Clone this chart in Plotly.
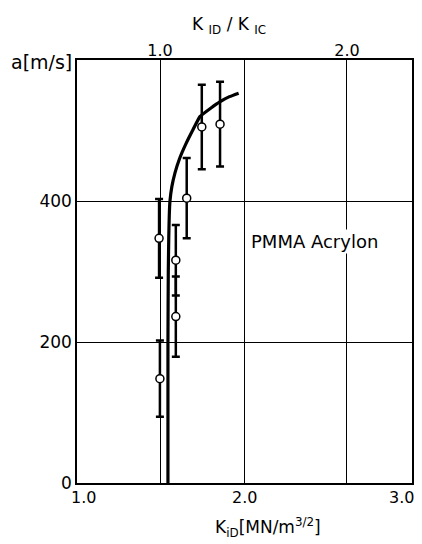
import plotly.graph_objects as go

# measured points
k_pts = [1.49, 1.495, 1.59, 1.59, 1.655, 1.745, 1.854]
a_pts = [347, 148, 316, 236, 404, 505, 509]
a_err = [56, 54, 50, 57, 57, 60, 60]

# fitted curve
k_curve = [1.543, 1.543, 1.545, 1.548, 1.551, 1.555, 1.566, 1.585, 1.612, 1.648, 1.69, 1.735, 1.80, 1.855, 1.91, 1.965]
a_curve = [0, 200, 300, 350, 380, 400, 420, 440, 460, 480, 500, 520, 532, 541, 548, 553]

x_ticks = [1.0, 2.0, 3.0]
x_ticklabels = ["1.0", "2.0", "3.0"]
y_ticks = [0, 200, 400]
y_ticklabels = ["0", "200", "400"]
top_ticks = [1.0, 2.0]
top_ticklabels = ["1.0", "2.0"]

font = "DejaVu Sans"

fig = go.Figure()
fig.add_trace(go.Scatter(
    x=k_curve, y=a_curve, mode="lines",
    line=dict(color="black", width=3.2, shape="spline", smoothing=0.4),
    showlegend=False, hoverinfo="skip"))
fig.add_trace(go.Scatter(
    x=k_pts, y=a_pts, mode="markers",
    marker=dict(symbol="circle", size=8, color="white", line=dict(color="black", width=1.5)),
    error_y=dict(type="data", array=a_err, visible=True, color="black", thickness=2.5, width=4),
    showlegend=False))
# dummy trace on top axis
fig.add_trace(go.Scatter(x=[1.0], y=[0], xaxis="x2", mode="markers",
                         marker=dict(opacity=0), showlegend=False, hoverinfo="skip"))

annotations = [
    dict(text="PMMA Acrylon", x=2.415, y=343, xref="x", yref="y",
         showarrow=False, font=dict(size=18, family=font), bgcolor="white"),
    dict(text="K<sub>iD</sub>[MN/m<sup>3/2</sup>]", x=0.57, y=0,
         xref="paper", yref="paper", xanchor="center", yanchor="top", yshift=-30,
         showarrow=False, font=dict(size=17, family=font)),
    dict(text="a[m/s]", x=0, y=1, xref="paper", yref="paper",
         xanchor="right", yanchor="middle", xshift=-3, yshift=-2,
         showarrow=False, font=dict(size=19, family=font)),
    dict(text="K <sub>ID</sub> / K <sub>IC</sub>", x=0.455, y=1, xref="paper", yref="paper",
         xanchor="center", yanchor="middle", yshift=35,
         showarrow=False, font=dict(size=17, family=font)),
]
# bottom tick labels as annotations for exact placement
x_label_shift = [6, 0, -11]
for v, t, s in zip(x_ticks, x_ticklabels, x_label_shift):
    annotations.append(dict(text=t, x=v, y=0, xref="x", yref="paper",
                            xanchor="center", yanchor="top", xshift=s, yshift=-3,
                            showarrow=False, font=dict(size=16, family=font)))

fig.update_layout(
    width=414, height=536,
    margin=dict(l=69, r=10, t=52, b=61),
    paper_bgcolor="white", plot_bgcolor="white",
    font=dict(family=font, size=16, color="black"),
    xaxis=dict(range=[1.0, 3.0], tickvals=x_ticks, showticklabels=False,
               showgrid=True, gridcolor="black", gridwidth=1,
               showline=True, linecolor="black", linewidth=1.5, mirror=True,
               ticks="", zeroline=False, automargin=False),
    xaxis2=dict(range=[0.5556, 2.348], overlaying="x", side="top",
                tickvals=top_ticks, ticktext=top_ticklabels,
                showgrid=True, gridcolor="black", gridwidth=1,
                ticks="", zeroline=False, tickfont=dict(size=16), automargin=False),
    yaxis=dict(range=[0, 600], tickvals=y_ticks, ticktext=y_ticklabels,
               showgrid=True, gridcolor="black", gridwidth=1,
               showline=True, linecolor="black", linewidth=1.5, mirror=True,
               ticks="", zeroline=False, tickfont=dict(size=17), automargin=False),
    annotations=annotations,
)

fig.write_html("out.html")
